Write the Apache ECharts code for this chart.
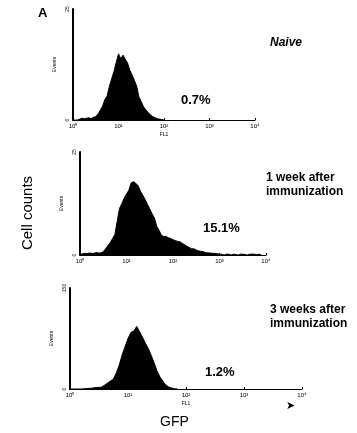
<!DOCTYPE html>
<html>
<head>
<meta charset="utf-8">
<script src="https://cdn.jsdelivr.net/npm/echarts@6/dist/echarts.min.js"></script>
<style>
  html, body { margin: 0; padding: 0; background: #fff; }
  #chart { width: 357px; height: 433px; }
</style>
</head>
<body>
<div id="chart"></div>
<script>
// histogram bins on a log scale, in decades (10^0 .. 10^4)
const binWidth = 0.05;
const decadeTicks = ['10\u2070', '10\u00b9', '10\u00b2', '10\u00b3', '10\u2074'];
const yMaxLabels = [25, 25, 150];

// event counts per bin, starting at 10^0
const naiveCounts = [
  0, 0, 0, 0.2, 0.4, 0.3, 0.4, 0.5, 0.3, 0.6,
  0.8, 1.3, 2.2, 3.1, 4.6, 5.4, 7.6, 9.3, 10.9, 13.0,
  14.9, 13.8, 14.6, 13.7, 12.8, 11.2, 10.1, 8.9, 7.6, 5.2,
  4.1, 3.0, 2.3, 1.7, 1.2, 0.8, 0.5, 0.3, 0.2, 0.1, 0
];
const week1Counts = [
  0, 0.3, 0.4, 0.3, 0.5, 0.4, 0.4, 0.6, 0.5, 0.5,
  0.8, 1.5, 2.3, 3.0, 4.0, 5.0, 8.2, 11.3, 12.5, 13.8,
  14.8, 15.7, 17.5, 17.8, 17.4, 16.8, 15.5, 14.5, 13.5, 12.3,
  11.2, 10.0, 9.0, 7.0, 6.0, 4.8, 4.5, 4.5, 4.2, 4.0,
  3.7, 3.5, 3.3, 3.2, 2.8, 2.5, 2.1, 1.8, 1.5, 1.5,
  1.2, 1.0, 0.9, 0.8, 0.6, 0.5, 0.5, 0.4, 0.4, 0.3,
  0.2, 0.2, 0, 0.2, 0.2, 0, 0.2, 0.1, 0, 0.2,
  0.2, 0.1, 0, 0.2, 0.2, 0.2, 0.1, 0.2, 0
];
const week3Counts = [
  0, 0, 0, 0, 0, 0.5, 0.8, 1, 1.5, 2.3,
  2.2, 3, 6, 9, 12, 15, 24, 36, 51, 63,
  75, 84, 86, 93, 85, 77, 68, 60, 50, 39,
  27, 18, 12, 6, 3, 1.5, 0.5, 0
];

const panelLabels = ['Naive', '1 week after\nimmunization', '3 weeks after\nimmunization'];
const percentLabels = ['0.7%', '15.1%', '1.2%'];

const grids = [
  { left: 73, top: 9, width: 182, height: 111 },
  { left: 80, top: 152, width: 186, height: 103 },
  { left: 70, top: 288, width: 232, height: 101 }
];

function toPoints(counts) {
  return counts.map((v, i) => [i * binWidth, v]);
}

const allCounts = [naiveCounts, week1Counts, week3Counts];
const tiny = { fontFamily: 'Liberation Sans, Arial, sans-serif', color: '#000' };
const textFont = 'Liberation Sans, Arial, sans-serif';

const option = {
  backgroundColor: '#fff',
  animation: false,
  grid: grids,
  xAxis: grids.map((g, i) => ({
    gridIndex: i,
    type: 'value',
    min: 0,
    max: 4,
    interval: 1,
    name: i === 1 ? '' : 'FL1',
    nameLocation: 'middle',
    nameGap: 12,
    nameTextStyle: { ...tiny, fontSize: 5 },
    axisLine: { lineStyle: { color: '#000', width: 1 } },
    axisTick: { show: true, length: 2, inside: true, lineStyle: { color: '#000' } },
    axisLabel: {
      ...tiny,
      fontSize: 6,
      margin: 3,
      formatter: (v) => decadeTicks[Math.round(v)] || ''
    },
    splitLine: { show: false }
  })),
  yAxis: grids.map((g, i) => ({
    gridIndex: i,
    type: 'value',
    min: 0,
    max: yMaxLabels[i],
    interval: yMaxLabels[i],
    name: 'Events',
    nameLocation: 'middle',
    nameGap: 7,
    nameRotate: 90,
    nameTextStyle: { ...tiny, fontSize: 5 },
    axisLine: { show: true, lineStyle: { color: '#000', width: 2 } },
    axisTick: { show: false },
    axisLabel: { ...tiny, fontSize: 5, rotate: 90, margin: 3 },
    splitLine: { show: false }
  })),
  series: allCounts.map((counts, i) => ({
    type: 'line',
    xAxisIndex: i,
    yAxisIndex: i,
    symbol: 'none',
    data: toPoints(counts),
    lineStyle: { color: '#000', width: 1 },
    areaStyle: { color: '#000', opacity: 1 }
  })),
  graphic: [
    { type: 'text', left: 38, top: 7,
      style: { text: 'A', font: 'bold 13px ' + textFont, fill: '#000' } },
    { type: 'text', left: 270, top: 37,
      style: { text: panelLabels[0], font: 'italic bold 12px ' + textFont, fill: '#000' } },
    { type: 'text', left: 266, top: 171,
      style: { text: panelLabels[1], font: 'bold 12px ' + textFont, lineHeight: 14, fill: '#000' } },
    { type: 'text', left: 270, top: 303,
      style: { text: panelLabels[2], font: 'bold 12px ' + textFont, lineHeight: 14, fill: '#000' } },
    { type: 'text', left: 181, top: 94,
      style: { text: percentLabels[0], font: 'bold 13px ' + textFont, fill: '#000' } },
    { type: 'text', left: 203, top: 222,
      style: { text: percentLabels[1], font: 'bold 13px ' + textFont, fill: '#000' } },
    { type: 'text', left: 205, top: 366,
      style: { text: percentLabels[2], font: 'bold 13px ' + textFont, fill: '#000' } },
    { type: 'text', left: 160, top: 415,
      style: { text: 'GFP', font: '14px ' + textFont, fill: '#000' } },
    { type: 'text', x: 28, y: 213, rotation: Math.PI / 2,
      style: { text: 'Cell counts', font: '15px ' + textFont, fill: '#000',
               align: 'center', verticalAlign: 'middle' } },
    { type: 'text', left: 286, top: 401,
      style: { text: '\u27a4', font: '11px DejaVu Sans', fill: '#000' } }
  ]
};

const chart = echarts.init(document.getElementById('chart'), null, { renderer: 'canvas' });
chart.setOption(option);
</script>
</body>
</html>
